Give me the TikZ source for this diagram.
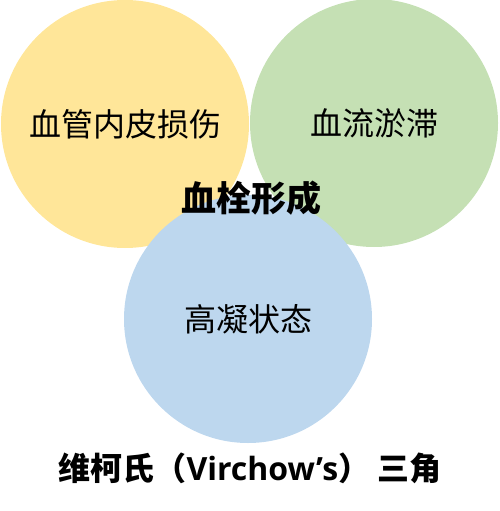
\documentclass[tikz,border=0pt]{standalone}
\usepackage{fontspec}
\newfontfamily\cjk{Noto Sans CJK SC}
\newfontfamily\latin{Open Sans}
\definecolor{cyellow}{HTML}{FFE699}
\definecolor{cgreen}{HTML}{C5E0B4}
\definecolor{cblue}{HTML}{BDD7EE}

\begin{document}
\begin{tikzpicture}[
    x=1pt, y=-1pt,
    factor/.style={circle, minimum size=248pt, inner sep=0pt, font=\cjk\fontsize{32}{36}\selectfont},
    label/.style={font=\cjk\bfseries\fontsize{35}{40}\selectfont}
]
    \useasboundingbox (0,0) rectangle (500,511);
    % Three factors
    \node[factor, fill=cyellow] (injury) at (125,124) {血管内皮损伤};
    \node[factor, fill=cgreen] (stasis) at (374,123) {血流淤滞};
    \node[factor, fill=cblue] (hyper) at (248,319) {高凝状态};

    % Centre and title
    \node[label] (thrombus) at (251,198) {血栓形成};
    \node[font=\cjk\bfseries\fontsize{32}{36}\selectfont] (title) at (250,468)
        {维柯氏（{\latin\bfseries Virchow’s}） 三角};
\end{tikzpicture}
\end{document}
